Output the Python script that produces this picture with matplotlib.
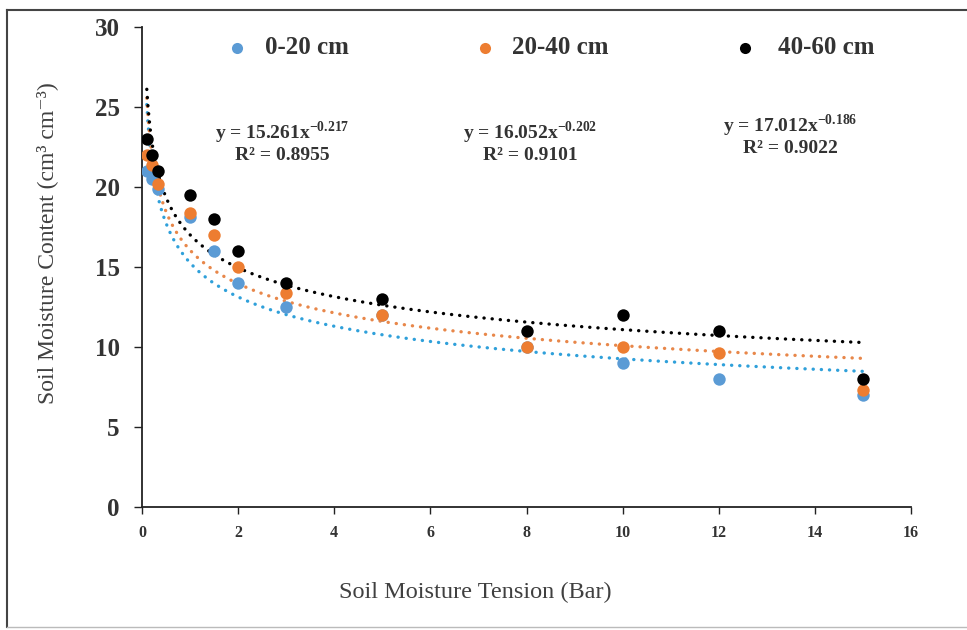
import numpy as np
import matplotlib
matplotlib.use("Agg")
import matplotlib.pyplot as plt
from matplotlib.lines import Line2D

tension = [0.1, 0.2, 0.33, 1, 1.5, 2, 3, 5, 8, 10, 12, 15]
depth_0_20 = [21, 20.5, 19.9, 18.1, 16, 14, 12.5, 12, 10, 9, 8, 7]
depth_20_40 = [22, 21.4, 20.2, 18.4, 17, 15, 13.4, 12, 10, 10, 9.6, 7.3]
depth_40_60 = [23, 22, 21, 19.5, 18, 16, 14, 13, 11, 12, 11, 8]
labels = ["0-20 cm", "20-40 cm", "40-60 cm"]
fit_a = [15.261, 16.052, 17.012]
fit_b = [-0.217, -0.202, -0.186]
fit_r2 = ["0.8955", "0.9101", "0.9022"]
eq_a_txt = ["15.261", "16.052", "17.012"]
eq_b_txt = ["-0.217", "-0.202", "-0.186"]

point_colors = ["#5B9BD5", "#ED7D31", "#000000"]
trend_colors = ["#2FA0DA", "#E8874A", "#000000"]

plt.rcParams['font.family'] = ['Liberation Serif', 'DejaVu Serif']
plt.rcParams['mathtext.fontset'] = 'custom'
plt.rcParams['mathtext.rm'] = 'Liberation Serif'
plt.rcParams['mathtext.bf'] = 'Liberation Serif:bold'

fig = plt.figure(figsize=(9.67, 6.3), dpi=100)
ax = fig.add_axes([142/967, 1-507/630, (911-142)/967, (507-27)/630])

series = [depth_0_20, depth_20_40, depth_40_60]
xs = np.linspace(min(tension), max(tension), 600)
for i, ys in enumerate(series):
    ax.scatter(tension, ys, s=80, color=point_colors[i], zorder=3, linewidths=0)
for i in range(3):
    ax.plot(xs, fit_a[i] * xs ** fit_b[i], linestyle=(0, (0.05, 2.4)), color=trend_colors[i],
            lw=2.4, zorder=2, dash_capstyle='round')

ax.set_xlim(0, 16)
ax.set_ylim(0, 30)
ax.set_xticks(range(0, 17, 2))
ax.set_yticks(range(0, 31, 5))
for s in ["top", "right"]:
    ax.spines[s].set_visible(False)
for s in ["left", "bottom"]:
    ax.spines[s].set_color("#222222")
    ax.spines[s].set_linewidth(1.3)
ax.tick_params(axis='y', direction='out', length=6, width=1, colors="#222222",
               labelsize=18, pad=10, labelcolor="#333333")
ax.tick_params(axis='x', direction='out', length=5, width=1, colors="#222222",
               labelsize=11.5, pad=8, labelcolor="#333333")
for lab in ax.get_yticklabels() + ax.get_xticklabels():
    lab.set_fontweight('bold')

# legend (placed in figure pixels)
leg_marker_x = [237, 485, 745]
leg_text_x = [265, 512, 778]
leg_y = 48
for i in range(3):
    fig.add_artist(Line2D([leg_marker_x[i]/967], [1-leg_y/630], marker='o', linestyle='none',
                          markersize=8, markerfacecolor=point_colors[i], markeredgewidth=0,
                          transform=fig.transFigure))
    fig.text(leg_text_x[i]/967, 1-leg_y/630, labels[i], ha='left', va='center',
             fontsize=18, fontweight='bold', color="#333333")

# equations
eq_pos = [(282, 133, 156), (530, 133, 156), (790, 126, 148)]
for i, (px, py1, py2) in enumerate(eq_pos):
    fig.text(px/967, 1-py1/630,
             "y = " + eq_a_txt[i] + "x" + r"$^{\mathbf{" + eq_b_txt[i] + r"}}$",
             ha='center', va='center', fontsize=14, fontweight='bold', color="#333333")
    fig.text(px/967, 1-py2/630, "R² = " + fit_r2[i],
             ha='center', va='center', fontsize=14, fontweight='bold', color="#333333")

fig.text(475/967, 1-592/630, "Soil Moisture Tension (Bar)", ha='center', va='center',
         fontsize=17.5, color="#404040")
fig.text(47/967, 1-243/630, "Soil Moisture Content (cm³ cm⁻³)", ha='center',
         va='center', rotation=90, fontsize=17, color="#404040")

# figure frame
fig.add_artist(Line2D([7/967, 7/967], [1-627/630, 1-10/630], color="#444444", lw=1.5,
                      transform=fig.transFigure))
fig.add_artist(Line2D([7/967, 1], [1-10/630, 1-10/630], color="#444444", lw=1.5,
                      transform=fig.transFigure))
fig.add_artist(Line2D([7/967, 1], [1-627/630, 1-627/630], color="#bbbbbb", lw=1,
                      transform=fig.transFigure))

fig.savefig("out.png", dpi=100)
